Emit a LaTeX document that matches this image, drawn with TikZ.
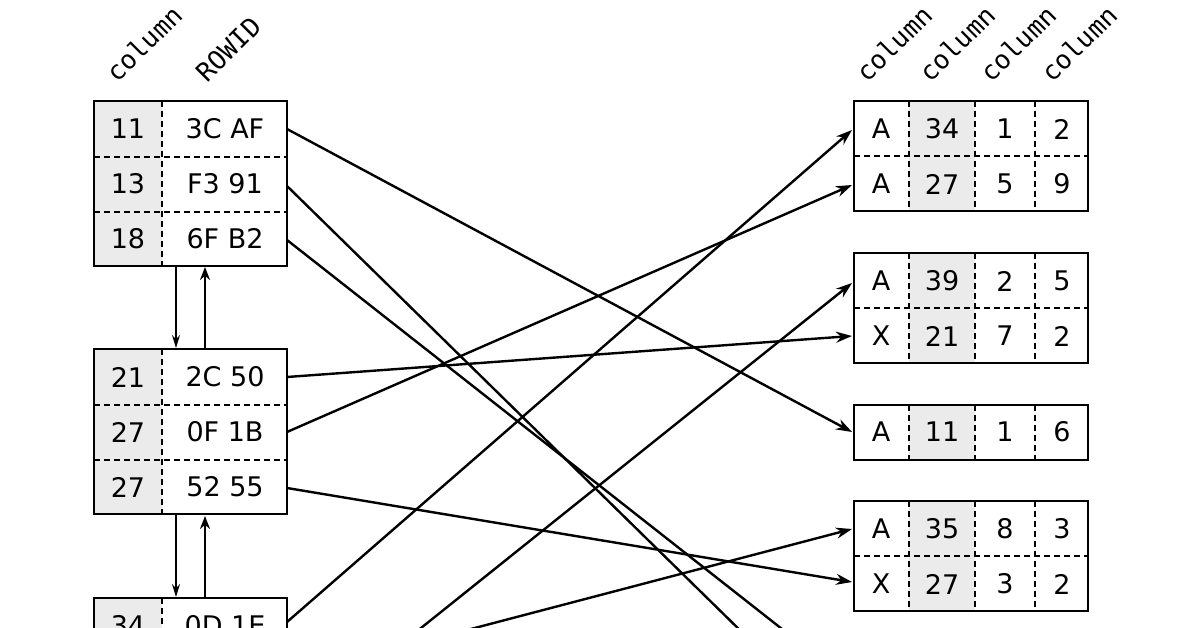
\documentclass[tikz,border=0pt]{standalone}
\usepackage{fontspec}
\setmainfont{DejaVu Sans}
\newfontfamily\hdrfont{DejaVu Sans Mono}
\usetikzlibrary{arrows.meta}
\begin{document}
\begin{tikzpicture}[x=1pt,y=-1pt,
  box/.style={line width=2.6pt},
  sep/.style={line width=1.4pt,dash pattern=on 6pt off 4pt},
  sepb/.style={line width=2.6pt,dash pattern=on 6pt off 4pt},
  shade/.style={fill=black!8},
  txt/.style={font=\fontsize{27}{30}\selectfont,inner sep=0pt},
  hdr/.style={font=\hdrfont\fontsize{26}{28}\selectfont,rotate=45,anchor=south west,inner sep=0pt},
  link/.style={line width=2.4pt,-{Stealth[length=16pt,width=11pt]}},
  chain/.style={line width=1.4pt,-{Stealth[length=13pt,width=8pt]}},
  chainb/.style={line width=2.8pt,-{Stealth[length=13pt,width=10pt]}}]
\useasboundingbox (0,0) rectangle (1196,628);
\clip (0,0) rectangle (1196,628);
% headers
\node[hdr] (hl1) at (118,84) {column};
\node[hdr] (hl2) at (208,84) {ROWID};
\foreach \x/\n in {868/1,931/2,992/3,1053/4}{
  \node[hdr] (hr\n) at (\x,84) {column};
}
% left tables
\foreach \t/\y/\a/\b/\c/\d/\e/\f in {1/101/11/3C AF/13/F3 91/18/6F B2, 2/349/21/2C 50/27/0F 1B/27/52 55, 3/598/34/0D 1E/35/7A 44/39/8C 21}{
  \fill[shade] (94,\y) rectangle (162,\y+165);
  \draw[sep] (162,\y) -- (162,\y+165);
  \draw[sep] (94,\y+56) -- (287,\y+56);
  \draw[sep] (94,\y+111) -- (287,\y+111);
  \draw[box] (94,\y) rectangle (287,\y+165);
  \node[txt] (la\t) at (128,\y+28) {\a};
  \node[txt] (lb\t) at (225,\y+28) {\b};
  \node[txt] (lc\t) at (128,\y+83) {\c};
  \node[txt] (ld\t) at (225,\y+83) {\d};
  \node[txt] (le\t) at (128,\y+138) {\e};
  \node[txt] (lf\t) at (225,\y+138) {\f};
}
% right tables
\newcommand{\rtable}[2]{% #1 top y, #2 number of rows
  \fill[shade] (909,#1) rectangle (975,#1+55*#2);
  \draw[sepb] (909,#1) -- (909,#1+55*#2);
  \draw[sep] (975,#1) -- (975,#1+55*#2);
  \draw[sep] (1035,#1) -- (1035,#1+55*#2);
  \ifnum#2>1 \draw[sep] (854,#1+55) -- (1088,#1+55);\fi
  \draw[box] (854,#1) rectangle (1088,#1+55*#2);}
\rtable{101}{2}\rtable{253}{2}\rtable{405}{1}\rtable{501}{2}
\foreach \r/\y/\a/\b/\c/\d in {1/129/A/34/1/2, 2/184/A/27/5/9, 3/281/A/39/2/5, 4/336/X/21/7/2, 5/432/A/11/1/6, 6/529/A/35/8/3, 7/584/X/27/3/2}{
  \node[txt] (ra\r) at (881,\y) {\a};
  \node[txt] (rb\r) at (942,\y) {\b};
  \node[txt] (rc\r) at (1005,\y) {\c};
  \node[txt] (rd\r) at (1062,\y) {\d};
}
% anchor points
\coordinate (L1) at (287,129); \coordinate (L2) at (287,186); \coordinate (L3) at (287,240);
\coordinate (L4) at (287,377); \coordinate (L5) at (287,432); \coordinate (L6) at (287,488);
\coordinate (L7) at (287,622);
\coordinate (R1) at (852,130); \coordinate (R2) at (852,185); \coordinate (R3) at (852,283);
\coordinate (R4) at (852,336); \coordinate (R5) at (852,432); \coordinate (R6) at (852,529);
\coordinate (R7) at (852,582);
\coordinate (B1) at (750,640); \coordinate (B2) at (796,640);
\coordinate (B3) at (406,640); \coordinate (B4) at (429,640);
\draw[link] (L1) -- (R5);
\draw[line width=2.4pt] (L2) -- (B1);
\draw[line width=2.4pt] (L3) -- (B2);
\draw[link] (L4) -- (R4);
\draw[link] (L5) -- (R2);
\draw[link] (L6) -- (R7);
\draw[link] (L7) -- (R1);
\draw[link] (B3) -- (R3);
\draw[link] (B4) -- (R6);
% chain arrows
\coordinate (d1) at (176,266); \coordinate (d2) at (176,348);
\coordinate (u1) at (205,349); \coordinate (u2) at (205,267);
\coordinate (d3) at (176,515); \coordinate (d4) at (176,597);
\coordinate (u3) at (205,598); \coordinate (u4) at (205,516);
\draw[chain] (d1) -- (d2); \draw[chainb] (u1) -- (u2);
\draw[chain] (d3) -- (d4); \draw[chainb] (u3) -- (u4);
\end{tikzpicture}
\end{document}
